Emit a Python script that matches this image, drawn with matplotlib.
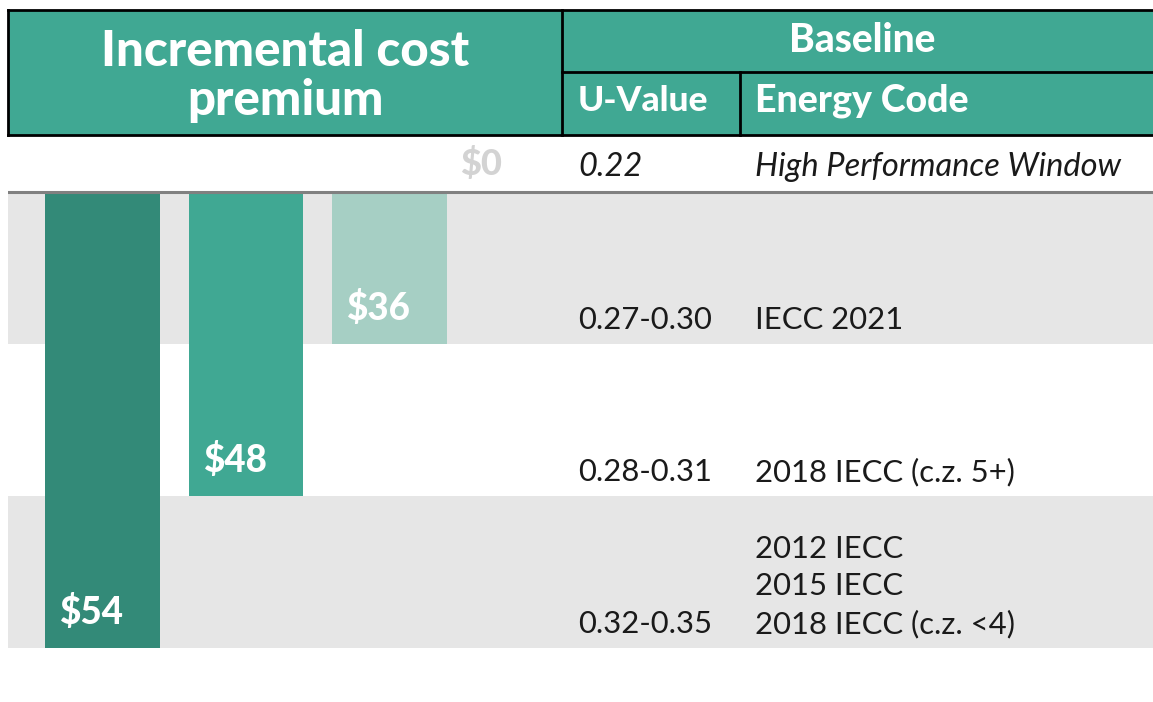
import matplotlib.pyplot as plt
from matplotlib.patches import Rectangle

# ---------------------------------------------------------------
# data: one entry per baseline row (row 0 = the high-perf window)
# ---------------------------------------------------------------
u_values = ["0.22", "0.27-0.30", "0.28-0.31", "0.32-0.35"]
energy_codes = ["High Performance Window",
                "IECC 2021",
                "2018 IECC (c.z. 5+)",
                "2012 IECC\n2015 IECC\n2018 IECC (c.z. <4)"]
premiums = [0, 36, 48, 54]            # incremental cost premium, $
bar_colors = [None, "#a6cfc4", "#40a893", "#338a78"]

TEAL = "#40a893"
BAND = "#e6e6e6"
W, H = 1153, 702

plt.rcParams['font.family'] = ['Lato', 'DejaVu Sans']
fig = plt.figure(figsize=(W / 100, H / 100), dpi=100)

# ---------------------------------------------------------------
# header table, drawn in a full-figure pixel axes
# ---------------------------------------------------------------
bg = fig.add_axes([0, 0, 1, 1])
bg.set_xlim(0, W)
bg.set_ylim(H, 0)
bg.axis('off')

bg.add_patch(Rectangle((8, 10), W - 8, 125, fc=TEAL, ec='none'))
frame = dict(color='black', lw=2, solid_capstyle='projecting')
bg.plot([8, W], [10, 10], **frame)
bg.plot([8, W], [135, 135], **frame)
bg.plot([8, 8], [10, 135], **frame)
bg.plot([562, 562], [10, 135], **frame)
bg.plot([562, W], [72, 72], **frame)
bg.plot([740, 740], [72, 135], **frame)

hdr = dict(color='white', fontweight='black')
bg.text(285, 76, "Incremental cost\npremium", ha='center', va='center',
        fontsize=35.5, linespacing=1.12, **hdr)
bg.text(862, 41, "Baseline", ha='center', va='center', fontsize=28, **hdr)
bg.text(578, 101, "U-Value", ha='left', va='center', fontsize=25.5, **hdr)
bg.text(755, 101, "Energy Code", ha='left', va='center', fontsize=27, **hdr)

# ---------------------------------------------------------------
# body: bars hang from the top rule down to their baseline row
# ---------------------------------------------------------------
ax = fig.add_axes([8 / W, (H - 648) / H, (W - 8) / W, (648 - 135) / H])
ax.patch.set_visible(False)
ax.set_xlim(-0.659, 7.32)
ax.set_ylim(3, -0.375)
ax.axis('off')

nrows = len(premiums)
for r in range(1, nrows):
    if r % 2 == 1:
        ax.axhspan(r - 1, r, color=BAND, lw=0, zorder=0)
ax.axhline(0, color='#808080', lw=2.2, zorder=3)

for r in range(nrows):
    x = (nrows - 1) - r
    if premiums[r] > 0:
        ax.bar(x, r, bottom=0, width=0.8, color=bar_colors[r], zorder=2)
        ax.annotate(f"${premiums[r]}", xy=(x - 0.4, r), xytext=(15, 24),
                    textcoords='offset pixels', ha='left', va='baseline',
                    color='white', fontsize=26.5, fontweight='black',
                    zorder=4)
    else:
        ax.annotate(f"${premiums[r]}", xy=(x - 0.4, r), xytext=(-16, 17),
                    textcoords='offset pixels', ha='left', va='baseline',
                    color='#d3d3d3', fontsize=26, fontweight='black')

# table columns (x in axes fraction)
u_col = (578 - 8) / (W - 8)
code_col = (755 - 8) / (W - 8)
tr = ax.get_yaxis_transform()
for r in range(nrows):
    italic = r == 0
    for col, txt in [(u_col, u_values[r]), (code_col, energy_codes[r])]:
        ax.annotate(txt, xy=(col, r), xycoords=tr, xytext=(0, 10),
                    textcoords='offset pixels', ha='left', va='bottom',
                    fontsize=23.5 if italic else 22.3,
                    fontstyle='italic' if italic else 'normal',
                    color='#1a1a1a', linespacing=1.4)

fig.savefig('out.png', dpi=100)
